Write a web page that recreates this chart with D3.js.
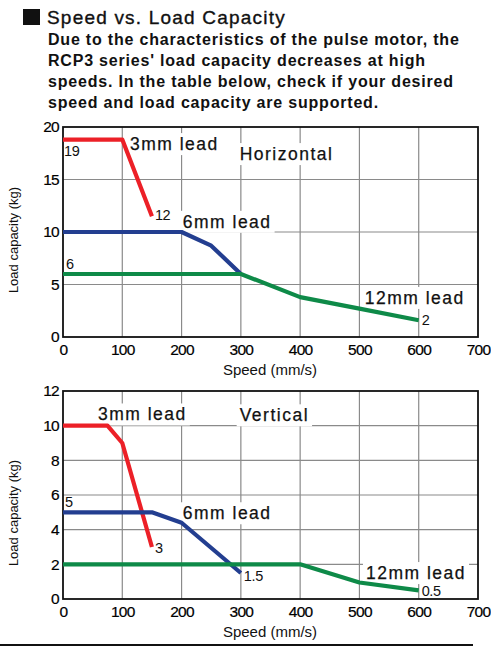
<!DOCTYPE html>
<html>
<head>
<meta charset="utf-8">
<script src="https://cdn.jsdelivr.net/npm/d3@7"></script>
<style>
  body { margin: 0; background: #fff; }
  svg { display: block; font-family: "Liberation Sans", Arial, Helvetica, sans-serif; }
</style>
</head>
<body>
<div id="vis"></div>
<script>
// Data
const speedTicks = [0, 100, 200, 300, 400, 500, 600, 700];
const horizTicks = [0, 5, 10, 15, 20];
const vertTicks = [0, 2, 4, 6, 8, 10, 12];

// Horizontal mounting: [speed mm/s, load kg]
const horiz3mm = [[0, 18.8], [100, 18.8], [150, 11.5]];
const horiz6mm = [[0, 10], [200, 10], [250, 8.7], [300, 6]];
const horiz12mm = [[0, 6], [300, 6], [400, 3.8], [500, 2.7], [600, 1.6]];

// Vertical mounting
const vert3mm = [[0, 10], [75, 10], [100, 9], [150, 3]];
const vert6mm = [[0, 5], [150, 5], [200, 4.4], [300, 1.5]];
const vert12mm = [[0, 2], [400, 2], [500, 0.95], [600, 0.5]];

const leadNames = ['3mm lead', '6mm lead', '12mm lead'];
const leadColors = ['#ec2027', '#233e90', '#0e8a48'];

const introLines = [
  "Due to the characteristics of the pulse motor, the",
  "RCP3 series' load capacity decreases at high",
  "speeds. In the table below, check if your desired",
  "speed and load capacity are supported."
];

let width = 491,
    height = 650;

let svg = d3.select('#vis')
  .append('svg')
  .attr('width', width)
  .attr('height', height);

// Heading
svg.append('rect')
  .attr('x', 23).attr('y', 9)
  .attr('width', 17).attr('height', 16)
  .attr('fill', '#111');

svg.append('text')
  .attr('x', 47).attr('y', 24)
  .text('Speed vs. Load Capacity')
  .style('font-size', '19px')
  .style('letter-spacing', '1.2px')
  .attr('fill', '#111')
  .attr('stroke', '#111')
  .attr('stroke-width', 0.35);

svg.selectAll('.intro')
  .data(introLines)
  .enter()
  .append('text')
  .attr('class', 'intro')
  .attr('x', 48)
  .attr('y', (d, i) => 45 + i * 21)
  .text(d => d)
  .style('font-size', '16px')
  .style('letter-spacing', '0.8px')
  .style('font-weight', 'bold')
  .attr('fill', '#111');

// one panel
function drawPanel(opts) {
  let x = d3.scaleLinear().domain([0, 700]).range([63, 478]);
  let y = d3.scaleLinear().domain([0, opts.yMax]).range([opts.bottom, opts.top]);

  let g = svg.append('g');

  // grid
  g.selectAll('.vgrid')
    .data(speedTicks.slice(1, -1))
    .enter().append('line')
    .attr('x1', d => x(d)).attr('x2', d => x(d))
    .attr('y1', opts.top).attr('y2', opts.bottom)
    .attr('stroke', '#8a8a8a').attr('stroke-width', 1.2);

  g.selectAll('.hgrid')
    .data(opts.yTicks.slice(1, -1))
    .enter().append('line')
    .attr('x1', 63).attr('x2', 478)
    .attr('y1', d => y(d)).attr('y2', d => y(d))
    .attr('stroke', '#8a8a8a').attr('stroke-width', 1.2);

  // white boxes behind the labels
  let labelG = g.append('g');

  // frame
  g.append('rect')
    .attr('x', 63).attr('y', opts.top)
    .attr('width', 478 - 63).attr('height', opts.bottom - opts.top)
    .attr('fill', 'none')
    .attr('stroke', '#111').attr('stroke-width', 1.8);

  // axes (labels only)
  let xAxis = g.append('g')
    .attr('transform', `translate(0, ${opts.bottom})`)
    .call(d3.axisBottom(x).tickValues(speedTicks).tickSize(0).tickPadding(7));
  let yAxis = g.append('g')
    .attr('transform', 'translate(63, 0)')
    .call(d3.axisLeft(y).tickValues(opts.yTicks).tickSize(0).tickPadding(4));
  [xAxis, yAxis].forEach(a => {
    a.select('.domain').remove();
    a.selectAll('text')
      .style('font-family', '"Liberation Sans", Arial, sans-serif')
      .style('font-size', '15.5px')
      .style('letter-spacing', '-0.7px')
      .attr('fill', '#000')
      .attr('stroke', '#000')
      .attr('stroke-width', 0.2);
  });

  // axis titles
  g.append('text')
    .attr('x', 270).attr('y', opts.bottom + 38)
    .attr('text-anchor', 'middle')
    .text('Speed (mm/s)')
    .style('font-size', '15px')
    .attr('fill', '#111');

  g.append('text')
    .attr('transform', `translate(18, ${opts.labelY}) rotate(-90)`)
    .attr('text-anchor', 'middle')
    .text('Load capacity (kg)')
    .style('font-size', '13px')
    .attr('fill', '#111');

  // lines
  let line = d3.line().x(d => x(d[0])).y(d => y(d[1]));
  g.selectAll('.series')
    .data(opts.series)
    .enter().append('path')
    .attr('d', d => line(d))
    .attr('fill', 'none')
    .attr('stroke', (d, i) => leadColors[i])
    .attr('stroke-width', 4.2)
    .attr('stroke-linejoin', 'round');

  // big labels with white background
  opts.bigLabels.forEach(l => {
    let t = g.append('text')
      .attr('x', x(l.v)).attr('y', y(l.kg))
      .text(l.text)
      .style('font-size', '17.5px')
      .style('letter-spacing', '1.5px')
      .attr('fill', '#111')
      .attr('stroke', '#111')
      .attr('stroke-width', 0.25);
    if (l.box) {
      let b = t.node().getBBox();
      labelG.append('rect')
        .attr('x', b.x - 3).attr('y', b.y - 1)
        .attr('width', b.width + 6).attr('height', b.height + 2)
        .attr('fill', '#fff');
    }
  });

  // small value labels
  opts.valueLabels.forEach(l => {
    g.append('text')
      .attr('x', x(l.v) + l.dx).attr('y', y(l.kg) + l.dy)
      .text(l.text)
      .style('font-size', '14.5px')
      .style('letter-spacing', '-0.4px')
      .attr('fill', '#111');
  });
}

drawPanel({
  top: 127, bottom: 337, yMax: 20, yTicks: horizTicks, labelY: 240,
  series: [horiz3mm, horiz6mm, horiz12mm],
  bigLabels: [
    {text: leadNames[0], v: 113, kg: 17.8, box: true},
    {text: 'Horizontal', v: 298, kg: 16.85, box: true},
    {text: leadNames[1], v: 202, kg: 10.4, box: true},
    {text: leadNames[2], v: 509, kg: 3.15, box: true}
  ],
  valueLabels: [
    {text: '19', v: horiz3mm[0][0], kg: horiz3mm[0][1], dx: 1, dy: 16},
    {text: '12', v: horiz3mm[2][0], kg: horiz3mm[2][1], dx: 3, dy: 4},
    {text: '6', v: horiz12mm[0][0], kg: horiz12mm[0][1], dx: 3, dy: -5},
    {text: '2', v: horiz12mm[4][0], kg: horiz12mm[4][1], dx: 3, dy: 5}
  ]
});

drawPanel({
  top: 391, bottom: 599, yMax: 12, yTicks: vertTicks, labelY: 513,
  series: [vert3mm, vert6mm, vert12mm],
  bigLabels: [
    {text: leadNames[0], v: 59, kg: 10.3, box: true},
    {text: 'Vertical', v: 298, kg: 10.25, box: true},
    {text: leadNames[1], v: 202, kg: 4.6, box: true},
    {text: leadNames[2], v: 511, kg: 1.15, box: true}
  ],
  valueLabels: [
    {text: '5', v: vert6mm[0][0], kg: vert6mm[0][1], dx: 2, dy: -5},
    {text: '3', v: vert3mm[3][0], kg: vert3mm[3][1], dx: 3, dy: 6},
    {text: '1.5', v: vert6mm[3][0], kg: vert6mm[3][1], dx: 3, dy: 8},
    {text: '0.5', v: vert12mm[3][0], kg: vert12mm[3][1], dx: 3, dy: 6}
  ]
});

// rule under the charts
svg.append('line')
  .attr('x1', 0).attr('x2', 473)
  .attr('y1', 645).attr('y2', 645)
  .attr('stroke', '#111').attr('stroke-width', 2);
</script>
</body>
</html>
